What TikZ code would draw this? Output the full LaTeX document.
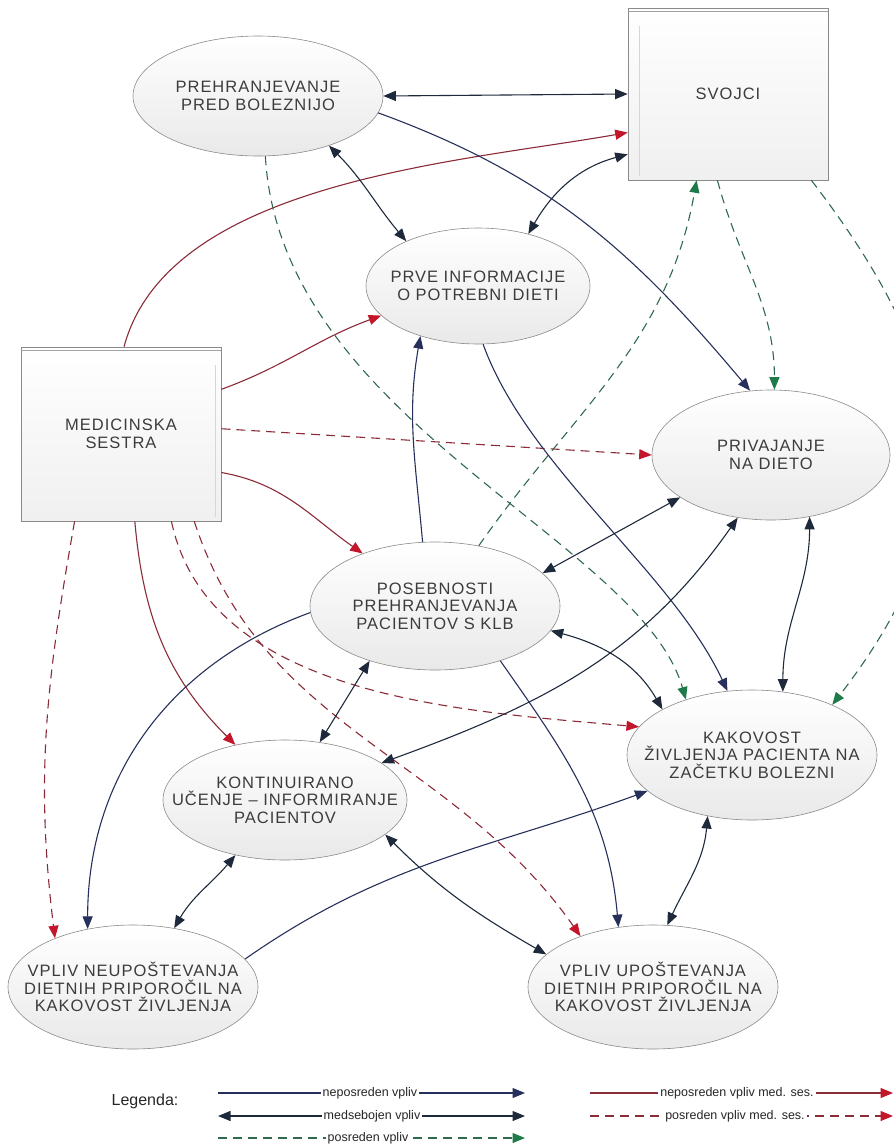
\documentclass[tikz,border=0pt]{standalone}
\usepackage{fontspec}
\setmainfont{Liberation Sans}
\newfontfamily\bubfont[LetterSpace=6]{Liberation Sans}
\usetikzlibrary{shapes.geometric,arrows.meta}
\definecolor{KLBNavy}{HTML}{27305A}
\definecolor{KLBInk}{HTML}{1E2A3C}
\definecolor{KLBRed}{HTML}{8B2B38}
\definecolor{KLBRedTip}{HTML}{C3162B}
\definecolor{KLBGreen}{HTML}{2F6A4E}
\definecolor{KLBGreenTip}{HTML}{1F7A49}
\definecolor{KLBFrame}{HTML}{8A8A8A}
\definecolor{KLBFill}{HTML}{E9E9E9}
\definecolor{KLBText}{HTML}{3C3C3C}

\begin{document}
\begin{tikzpicture}[x=1pt,y=-1pt,
    bubble/.style={ellipse,draw=KLBFrame,line width=0.6pt,top color=white,
      bottom color=KLBFill,inner sep=0pt},
    bubtext/.style={align=center,text=KLBText,font=\bubfont\fontsize{16.5}{17.5}\selectfont},
    boxnode/.style={rectangle,draw=KLBFrame,line width=0.6pt,top color=white,
      bottom color=KLBFill!70,align=center,text=KLBText,
      font=\bubfont\fontsize{16.5}{17.5}\selectfont,minimum width=200pt},
    direct/.style={KLBNavy,line width=1.1pt,-{Triangle[length=12.5pt,width=10pt]}},
    mutual/.style={KLBInk,line width=1.1pt,
      {Triangle[length=12.5pt,width=10pt]}-{Triangle[length=12.5pt,width=10pt]}},
    medline/.style={KLBRed,line width=1.1pt,
      -{Triangle[length=12.5pt,width=10pt,color=KLBRedTip]}},
    meddash/.style={medline,dash pattern=on 9pt off 6pt},
    posdash/.style={KLBGreen,line width=1.1pt,dash pattern=on 9pt off 6pt,
      -{Triangle[length=12.5pt,width=10pt,color=KLBGreenTip]}},
    legtxt/.style={fill=white,inner sep=2pt,text=black!85,
      font=\fontsize{12.5}{14}\selectfont}]
  \useasboundingbox (0,0) rectangle (894,1144);

  % boxes
  \node[boxnode,minimum height=172pt] (svojci) at (728,94) {SVOJCI};
  \node[boxnode,minimum height=174pt] (sestra) at (121,434) {MEDICINSKA\\SESTRA};
  \draw[KLBFrame!80,line width=0.5pt] ([yshift=-4pt]svojci.north west) -- ([yshift=-4pt]svojci.north east);
  \draw[KLBFrame!35,line width=0.5pt] ([xshift=12pt,yshift=-18pt]svojci.north west) -- ([xshift=12pt,yshift=4pt]svojci.south west);
  \draw[KLBFrame!80,line width=0.5pt] ([yshift=-4pt]sestra.north west) -- ([yshift=-4pt]sestra.north east);
  \draw[KLBFrame!35,line width=0.5pt] ([xshift=-6pt,yshift=-18pt]sestra.north east) -- ([xshift=-6pt,yshift=4pt]sestra.south east);

  % ellipses
  \node[bubble,minimum width=250pt,minimum height=120pt] (preh) at (258,96) {};
  \node[bubtext] (preh-t) at (preh) {PREHRANJEVANJE\\PRED BOLEZNIJO};
  \node[bubble,minimum width=224pt,minimum height=116pt] (prve) at (478,286) {};
  \node[bubtext] (prve-t) at (prve) {PRVE INFORMACIJE\\O POTREBNI DIETI};
  \node[bubble,minimum width=238pt,minimum height=130pt] (priv) at (771,455) {};
  \node[bubtext] (priv-t) at (priv) {PRIVAJANJE\\NA DIETO};
  \node[bubble,minimum width=250pt,minimum height=128pt] (poseb) at (435,606) {};
  \node[bubtext] (poseb-t) at (poseb) {POSEBNOSTI\\PREHRANJEVANJA\\PACIENTOV S KLB};
  \node[bubble,minimum width=250pt,minimum height=130pt] (kakov) at (752,755) {};
  \node[bubtext] (kakov-t) at (kakov) {KAKOVOST\\ŽIVLJENJA PACIENTA NA\\ZAČETKU BOLEZNI};
  \node[bubble,minimum width=244pt,minimum height=120pt] (kont) at (285,800) {};
  \node[bubtext] (kont-t) at (kont) {KONTINUIRANO\\UČENJE – INFORMIRANJE\\PACIENTOV};
  \node[bubble,minimum width=250pt,minimum height=124pt] (neup) at (133,987) {};
  \node[bubtext] (neup-t) at (neup) {VPLIV NEUPOŠTEVANJA\\DIETNIH PRIPOROČIL NA\\KAKOVOST ŽIVLJENJA};
  \node[bubble,minimum width=250pt,minimum height=124pt] (upos) at (653,987) {};
  \node[bubtext] (upos-t) at (upos) {VPLIV UPOŠTEVANJA\\DIETNIH PRIPOROČIL NA\\KAKOVOST ŽIVLJENJA};

  % medicinska sestra
  \draw[medline] (sestra.88) to[out=75,in=190,looseness=0.8] (svojci.201);
  \draw[medline] (sestra.24) to[out=20,in=200] (prve.197);
  \draw[meddash] (sestra.3) -- (priv.west);
  \draw[medline] (sestra.-21) to[out=-10,in=145] (poseb.144);
  \draw[medline] (sestra.-81) to[out=-85,in=135] (kont.132);
  \draw[meddash] (sestra.-118) to[out=-100,in=97] (neup.148);
  \draw[meddash] (sestra.-60) to[out=-78,in=175,looseness=0.9] (kakov.166);
  \draw[meddash] (sestra.-50) to[out=-72,in=125] (upos.145);

  % posredni vplivi
  \draw[posdash] (preh.-83) .. controls (280,420) and (640,540) .. (kakov.140);
  \draw[posdash] (poseb.54) to[out=55,in=-100] (svojci.250);
  \draw[posdash] (svojci.263) to[out=-75,in=90] (priv.87);
  \draw[posdash] (svojci.-46) .. controls (965,380) and (975,520) .. (kakov.32);

  % neposredni in medsebojni vplivi
  \draw[mutual] (preh.east) -- (svojci.west);
  \draw[direct] (preh.-8) to[out=-20,in=130] (priv.108);
  \draw[mutual] (preh.-35) to[out=-45,in=130] (prve.148);
  \draw[mutual] (svojci.211) to[out=195,in=60] (prve.46);
  \draw[direct] (poseb.101) to[out=95,in=-100] (prve.221);
  \draw[direct] (prve.-85) to[out=-70,in=115,looseness=0.8] (kakov.111);
  \draw[mutual] (priv.205) -- (poseb.17);
  \draw[mutual] (priv.242) to[out=235,in=20] (kont.21);
  \draw[mutual] (priv.-58) to[out=-90,in=90] (kakov.64);
  \draw[mutual] (poseb.-12) to[out=-15,in=120] (kakov.153);
  \draw[mutual] (poseb.220) -- (kont.59);
  \draw[direct] (poseb.183) to[out=200,in=90] (neup.128);
  \draw[direct] (poseb.-40) to[out=-55,in=95] (upos.120);
  \draw[mutual] (kont.228) to[out=230,in=60] (neup.55);
  \draw[mutual] (kont.-19) to[out=-45,in=150] (upos.163);
  \draw[direct] (neup.14) to[out=35,in=200] (kakov.199);
  \draw[mutual] (kakov.234) to[out=-95,in=65] (upos.77);

  % legenda
  \node[text=black!85,font=\fontsize{16}{18}\selectfont] (leg) at (145,1101) {Legenda:};
  \coordinate (l1a) at (218,1093); \coordinate (l1b) at (525,1093);
  \coordinate (l2a) at (218,1116); \coordinate (l2b) at (525,1116);
  \coordinate (l3a) at (218,1138); \coordinate (l3b) at (525,1138);
  \coordinate (r1a) at (590,1093); \coordinate (r1b) at (893,1093);
  \coordinate (r2a) at (590,1116); \coordinate (r2b) at (893,1116);
  \draw[direct] (l1a) -- (l1b);
  \draw[mutual] (l2a) -- (l2b);
  \draw[posdash] (l3a) -- (l3b);
  \draw[medline] (r1a) -- (r1b);
  \draw[meddash] (r2a) -- (r2b);
  \node[legtxt] (l1t) at (370,1093) {neposreden vpliv};
  \node[legtxt] (l2t) at (372,1116) {medsebojen vpliv};
  \node[legtxt] (l3t) at (368,1138) {posreden vpliv};
  \node[legtxt] (r1t) at (737,1093) {neposreden vpliv med. ses.};
  \node[legtxt] (r2t) at (735,1116) {posreden vpliv med. ses.};
\end{tikzpicture}
\end{document}
